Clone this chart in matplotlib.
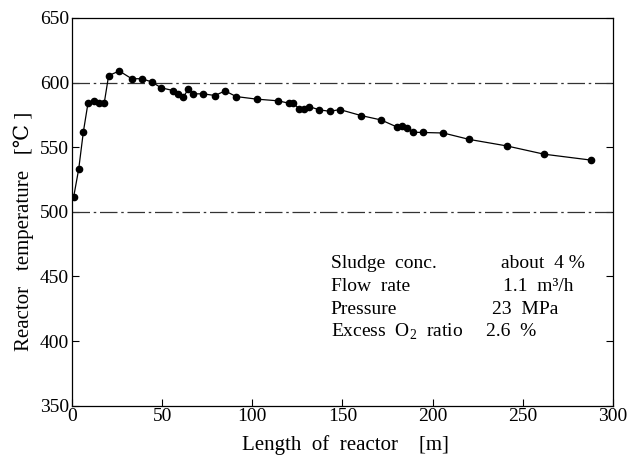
import matplotlib
matplotlib.use('Agg')
import matplotlib.pyplot as plt

# Data
length_m = [0.9, 3.7, 6.3, 8.9, 12.2, 15.1, 17.9, 20.3, 26.2, 33.1, 38.8, 44.2, 49.4,
            56.2, 59.0, 61.7, 64.5, 67.3, 72.8, 79.3, 84.9, 91.0, 102.4, 114.3, 120.4,
            122.7, 126.1, 128.7, 131.6, 137.2, 142.9, 148.6, 160.3, 171.4, 180.1, 182.9,
            185.7, 189.1, 194.5, 205.9, 220.4, 241.1, 261.8, 288.0]
temp_c = [511.5, 533, 562, 584.5, 586, 584.5, 584.5, 605.4, 609, 603, 603, 600.5, 596,
          593.8, 591.3, 588.7, 595, 591.3, 591.3, 590, 593.6, 589.2, 587.2, 585.9, 584,
          584, 579.6, 579.6, 581.4, 578.9, 577.8, 579.1, 574.5, 571.1, 565.7, 566.2,
          564.7, 561.6, 561.4, 561, 556, 551, 544.6, 540]
ref_lines = [600, 500]
x_ticks = [0, 50, 100, 150, 200, 250, 300]
y_ticks = [350, 400, 450, 500, 550, 600, 650]
cond_names = ['Sludge  conc.', 'Flow  rate', 'Pressure', r'Excess  O$_\mathregular{2}$  ratio']
cond_values = ['about  4 %', '1.1  m\u00b3/h', '23  MPa', '2.6  %']

plt.rcParams['font.family'] = ['Liberation Serif', 'DejaVu Serif']
plt.rcParams['mathtext.fontset'] = 'custom'
plt.rcParams['mathtext.rm'] = 'Liberation Serif'

fig = plt.figure(figsize=(6.29, 4.61), dpi=100)
ax = fig.add_axes([0.1145, 0.12, 0.86, 0.841])

for y in ref_lines:
    ax.axhline(y, color='#333333', lw=0.9, linestyle=(0, (14, 3, 2, 3)))

ax.plot(length_m, temp_c, color='black', lw=0.9, marker='o', markersize=4.5)

ax.set_xlim(0, 300)
ax.set_ylim(350, 650)
ax.set_xticks(x_ticks)
ax.set_yticks(y_ticks)
ax.tick_params(direction='in', length=5, width=0.8, labelsize=14, right=True, pad=2)
for s in ax.spines.values():
    s.set_linewidth(0.9)

ax.set_xlabel('Length  of  reactor    [m]', fontsize=15)
ax.set_ylabel('Reactor   temperature   [\u2103 ]', fontsize=15)
ax.xaxis.set_label_coords(0.505, -0.075)
ax.yaxis.set_label_coords(-0.07, 0.45)

# Operating conditions text
name_x = 143.5
value_x = [237.8, 239, 233, 229.5]
text_y = [460.4, 441.9, 424.8, 407.1]
for name, val, vx, ty in zip(cond_names, cond_values, value_x, text_y):
    ax.text(name_x, ty, name, fontsize=14, va='center', ha='left')
    ax.text(vx, ty, val, fontsize=14, va='center', ha='left')

fig.savefig('out.png', dpi=100)
